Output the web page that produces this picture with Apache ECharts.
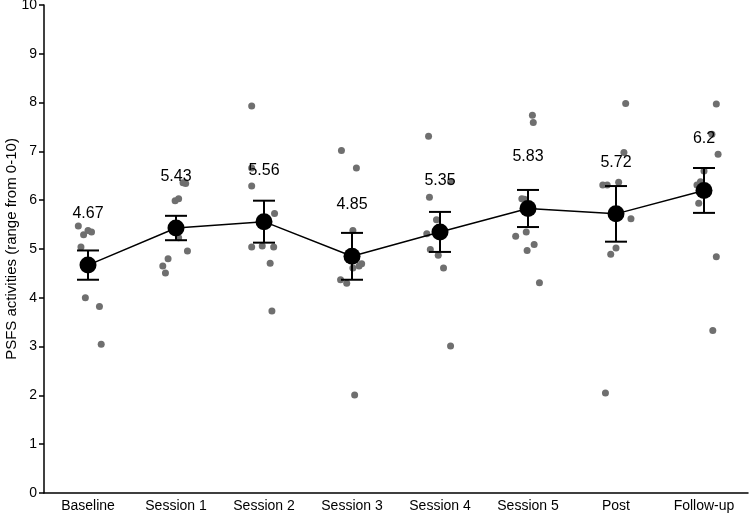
<!DOCTYPE html>
<html>
<head>
<meta charset="utf-8">
<script src="https://cdn.jsdelivr.net/npm/echarts@6/dist/echarts.min.js"></script>
<style>
  html, body { margin: 0; padding: 0; background: #fff; }
  #chart { width: 749px; height: 515px; }
</style>
</head>
<body>
<div id="chart"></div>
<script>
// categories
var categories = ['Baseline', 'Session 1', 'Session 2', 'Session 3', 'Session 4', 'Session 5', 'Post', 'Follow-up'];
// group means and error (half length of bar)
var means = [4.67, 5.43, 5.56, 4.85, 5.35, 5.83, 5.72, 6.2];
var errors = [0.30, 0.25, 0.43, 0.48, 0.41, 0.38, 0.57, 0.46];

// individual scores per time point
var baselineVals = [5.47, 5.29, 5.38, 5.35, 5.04, 4.00, 3.82, 3.05, 4.63];
var session1Vals = [6.36, 6.34, 5.99, 6.03, 5.23, 4.96, 4.80, 4.65, 4.51];
var session2Vals = [7.93, 6.66, 6.29, 5.73, 5.04, 5.06, 5.04, 4.71, 3.73];
var session3Vals = [7.02, 6.66, 5.38, 4.70, 4.65, 4.61, 4.37, 4.30, 2.01];
var session4Vals = [7.31, 6.38, 6.06, 5.60, 5.31, 4.99, 4.87, 4.61, 3.01];
var session5Vals = [7.74, 7.59, 6.03, 6.02, 5.26, 5.35, 5.09, 4.97, 4.31];
var postVals = [7.98, 6.98, 6.31, 6.31, 6.37, 5.62, 5.02, 4.89, 2.05];
var followVals = [7.97, 7.35, 6.94, 6.60, 6.38, 6.31, 5.94, 4.84, 3.33];

// horizontal jitter of each point (in category widths)
var baselineJit = [-0.11, -0.05, 0.00, 0.04, -0.08, -0.03, 0.13, 0.15, 0.00];
var session1Jit = [0.08, 0.11, -0.01, 0.03, 0.03, 0.13, -0.09, -0.15, -0.12];
var session2Jit = [-0.14, -0.14, -0.14, 0.12, -0.14, -0.02, 0.11, 0.07, 0.09];
var session3Jit = [-0.12, 0.05, 0.01, 0.11, 0.08, 0.01, -0.13, -0.06, 0.03];
var session4Jit = [-0.13, 0.12, -0.12, -0.04, -0.15, -0.11, -0.02, 0.04, 0.12];
var session5Jit = [0.05, 0.06, -0.07, -0.04, -0.14, -0.02, 0.07, -0.01, 0.13];
var postJit = [0.11, 0.09, -0.15, -0.10, 0.03, 0.17, 0.00, -0.06, -0.12];
var followJit = [0.14, 0.09, 0.16, 0.00, -0.04, -0.08, -0.06, 0.14, 0.10];

var allVals = [baselineVals, session1Vals, session2Vals, session3Vals, session4Vals, session5Vals, postVals, followVals];
var allJit = [baselineJit, session1Jit, session2Jit, session3Jit, session4Jit, session5Jit, postJit, followJit];

var dotData = [];
allVals.forEach(function (vals, i) {
  vals.forEach(function (v, j) {
    dotData.push([i + 0.5 + allJit[i][j], v]);
  });
});

var errData = means.map(function (m, i) {
  return [i, m - errors[i], m + errors[i]];
});

var chart = echarts.init(document.getElementById('chart'));

chart.setOption({
  animation: false,
  textStyle: { fontFamily: 'Liberation Sans, Arial, sans-serif' },
  grid: { left: 44, right: 1, top: 5, bottom: 22, containLabel: false, outerBoundsMode: 'none' },
  xAxis: [
    {
      type: 'category',
      data: categories,
      axisLine: { lineStyle: { color: '#000', width: 1.5 } },
      axisTick: { alignWithLabel: true, length: 5, lineStyle: { color: '#000', width: 1.5 } },
      axisLabel: { color: '#000', fontSize: 14, margin: 6 }
    },
    {
      type: 'value',
      min: 0,
      max: 8,
      show: false
    }
  ],
  yAxis: {
    type: 'value',
    min: 0,
    max: 10,
    interval: 1,
    name: 'PSFS activities (range from 0-10)',
    nameLocation: 'middle',
    nameGap: 25,
    nameMoveOverlap: false,
    nameTextStyle: { color: '#000', fontSize: 15 },
    splitLine: { show: false },
    axisLine: { show: true, lineStyle: { color: '#000', width: 1.5 } },
    axisTick: { show: true, length: 5, lineStyle: { color: '#000', width: 1.5 } },
    axisLabel: { color: '#000', fontSize: 14, margin: 7 }
  },
  series: [
    {
      name: 'individual',
      type: 'scatter',
      xAxisIndex: 1,
      data: dotData,
      symbolSize: 7,
      itemStyle: { color: '#6f6f6f', opacity: 1 },
      z: 1
    },
    {
      name: 'error',
      type: 'custom',
      data: errData,
      z: 3,
      renderItem: function (params, api) {
        var idx = api.value(0);
        var lo = api.coord([idx, api.value(1)]);
        var hi = api.coord([idx, api.value(2)]);
        var cap = 11;
        var style = { stroke: '#000', lineWidth: 2 };
        return {
          type: 'group',
          children: [
            { type: 'line', shape: { x1: hi[0], y1: hi[1], x2: lo[0], y2: lo[1] }, style: style },
            { type: 'line', shape: { x1: hi[0] - cap, y1: hi[1], x2: hi[0] + cap, y2: hi[1] }, style: style },
            { type: 'line', shape: { x1: lo[0] - cap, y1: lo[1], x2: lo[0] + cap, y2: lo[1] }, style: style }
          ]
        };
      }
    },
    {
      name: 'mean',
      type: 'line',
      data: means,
      symbol: 'circle',
      symbolSize: 17,
      lineStyle: { color: '#000', width: 1.5 },
      itemStyle: { color: '#000' },
      z: 4,
      label: {
        show: true,
        position: 'top',
        distance: 35,
        color: '#000',
        fontSize: 16
      }
    }
  ]
});
</script>
</body>
</html>
